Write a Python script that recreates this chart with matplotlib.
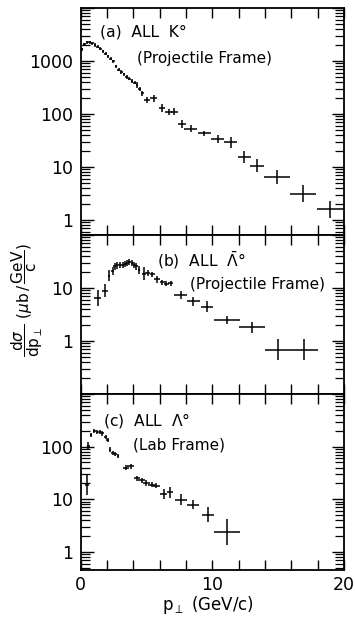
import numpy as np
import matplotlib
matplotlib.use("Agg")
import matplotlib.pyplot as plt
from matplotlib.ticker import FixedLocator, FuncFormatter, LogLocator, NullFormatter

plt.rcParams['font.family'] = ['DejaVu Sans']
plt.rcParams['mathtext.fontset'] = 'dejavusans'

# ---------------- data ----------------
# (a) ALL K0, projectile frame
a_pt = [0.1, 0.3, 0.5, 0.7, 0.9, 1.1, 1.3, 1.5, 1.7, 1.9, 2.1, 2.3, 2.5, 2.7, 2.9,
        3.1, 3.3, 3.5, 3.7, 3.9, 4.1, 4.3, 4.5, 4.7, 5.06, 5.56, 6.2, 6.7, 7.13,
        7.7, 8.35, 9.4, 10.4, 11.4, 12.44, 13.4, 14.9, 16.9, 18.97]
a_val = [1650, 2050, 2250, 2250, 2150, 2000, 1850, 1700, 1520, 1370, 1220, 1100, 980, 800, 680,
         620, 560, 500, 460, 420, 390, 350, 300, 245, 183, 197, 130, 110, 110,
         65, 53, 43, 33.5, 29, 15.5, 10.5, 6.5, 3.1, 1.6]
a_xerr = [0.1] * 24 + [0.25, 0.25, 0.25, 0.25, 0.25, 0.3, 0.5, 0.5, 0.5, 0.5, 0.5, 0.5, 1.0, 1.0, 1.0]
a_dex = [0.03] * 21 + [0.06, 0.04, 0.05, 0.05, 0.07, 0.07, 0.06, 0.07, 0.07, 0.06, 0.05,
                       0.08, 0.1, 0.11, 0.12, 0.13, 0.16, 0.16]

# (b) ALL anti-Lambda0, projectile frame
b_pt = [1.3, 1.85, 2.15, 2.45, 2.6, 2.8, 3.0, 3.2, 3.4, 3.55, 3.7, 3.9, 4.05, 4.25, 4.45,
        4.8, 5.1, 5.45, 5.8, 6.2, 6.5, 6.85, 7.6, 8.55, 9.6, 11.1, 13.0, 15.0, 17.0]
b_val = [6.4, 8.9, 17, 21, 25.6, 26.7, 27.5, 27.5, 28, 29.5, 31, 29.5, 27.5, 25.5, 22,
         18.5, 19, 18, 14.5, 12.8, 12, 12.3, 7.4, 5.6, 4.45, 2.5, 1.8, 0.68, 0.68]
b_xerr = [0.25, 0.25] + [0.1] * 13 + [0.15, 0.2, 0.2, 0.2, 0.2, 0.2, 0.2,
                                      0.5, 0.5, 0.45, 1.0, 1.0, 1.0, 1.0]
b_dex = [0.15, 0.12, 0.1, 0.08] + [0.06] * 10 + [0.07, 0.12, 0.06, 0.05, 0.06, 0.05, 0.05,
                                                 0.05, 0.08, 0.09, 0.1, 0.08, 0.1, 0.2, 0.2]

# (c) ALL Lambda0, lab frame
c_pt = [0.5, 0.6, 0.8, 1.05, 1.25, 1.45, 1.65, 1.9, 2.05, 2.25, 2.45, 2.65, 2.85,
        3.45, 3.8, 4.3, 4.65, 5.0, 5.4, 5.75, 6.3, 6.8, 7.6, 8.55, 9.7, 11.1]
c_val = [19, 105, 165, 195, 192, 188, 178, 155, 135, 88, 76, 72, 66,
         40, 42, 25, 23, 20.5, 19, 18, 12.5, 13.5, 9.8, 7.9, 5.1, 2.4]
c_xerr = [0.15] + [0.1] * 12 + [0.25] * 9 + [0.45, 0.45, 0.45, 1.0]
c_dex = [0.2, 0.07] + [0.04] * 11 + [0.05] * 7 + [0.1, 0.1, 0.1, 0.08, 0.14, 0.24]

panels = [
    dict(pt=a_pt, val=a_val, xerr=a_xerr, dex=a_dex, ylim=(0.52, 1e4),
         labels={1: "1", 10: "10", 100: "100", 1000: "1000"},
         title=("(a)  ALL  K°", "(Projectile Frame)"),
         tpos=((100, 32), (137, 58))),
    dict(pt=b_pt, val=b_val, xerr=b_xerr, dex=b_dex, ylim=(0.1, 100),
         labels={1: "1", 10: "10"},
         title=(r"(b)  ALL  $\bar{\Lambda}$°", "(Projectile Frame)"),
         tpos=((157, 260), (190, 285))),
    dict(pt=c_pt, val=c_val, xerr=c_xerr, dex=c_dex, ylim=(0.454, 1000),
         labels={1: "1", 10: "10", 100: "100"},
         title=(r"(c)  ALL  $\Lambda$°", "(Lab Frame)"),
         tpos=((103, 420), (133, 445))),
]

W, H = 355, 618
fig = plt.figure(figsize=(W / 100, H / 100), dpi=100)
left, right = 80.5, 344.0
edges = [(8, 235), (235, 394), (394, 570)]

for i, (p, (top, bot)) in enumerate(zip(panels, edges)):
    ax = fig.add_axes([left / W, (H - bot) / H, (right - left) / W, (bot - top) / H])
    y = np.array(p['val'], float)
    dex = np.array(p['dex'], float)
    lo = y - y / 10 ** dex
    hi = y * 10 ** dex - y
    ax.errorbar(p['pt'], y, xerr=p['xerr'], yerr=[lo, hi], fmt='none',
                ecolor='black', elinewidth=1.1, capsize=0)
    ax.set_yscale('log')
    ax.set_ylim(*p['ylim'])
    ax.set_xlim(0, 20)
    ax.xaxis.set_major_locator(FixedLocator(np.arange(0, 21, 2)))
    if i == 2:
        ax.xaxis.set_major_formatter(FuncFormatter(lambda v, pos: f"{int(v)}" if v in (0, 10, 20) else ""))
    else:
        ax.xaxis.set_major_formatter(NullFormatter())
    ax.tick_params(axis='x', which='major', direction='in', top=True, bottom=True,
                   length=7, width=1.0, labelsize=12.5, pad=4)
    labels = p['labels']
    ax.yaxis.set_major_locator(LogLocator(base=10, numticks=10))
    ax.yaxis.set_minor_locator(LogLocator(base=10, subs=np.arange(2, 10), numticks=20))
    ax.yaxis.set_major_formatter(FuncFormatter(
        lambda v, pos, labels=labels: labels.get(int(round(v)), "") if v >= 1 else ""))
    ax.yaxis.set_minor_formatter(NullFormatter())
    ax.tick_params(axis='y', which='major', direction='in', left=True, right=True,
                   length=9, width=1.0, labelsize=12.5, pad=5)
    ax.tick_params(axis='y', which='minor', direction='in', left=True, right=True,
                   length=6.5, width=0.9)
    for s in ax.spines.values():
        s.set_linewidth(1.3)
    (t1, t2) = p['title']
    (x1, y1), (x2, y2) = p['tpos']
    fig.text(x1 / W, 1 - y1 / H, t1, fontsize=11.2, ha='left', va='center')
    fig.text(x2 / W, 1 - y2 / H, t2, fontsize=11.0, ha='left', va='center')

fig.text(208 / W, 1 - 605 / H, r"$\mathrm{p}_{\perp}$ (GeV/c)", fontsize=12, ha='center', va='center')
fig.text(27 / W, 1 - 300 / H,
         r"$\dfrac{\mathrm{d}\sigma}{\mathrm{dp}_{\perp}}\ (\mu\mathrm{b}\,/\,\dfrac{\mathrm{GeV}}{\mathrm{c}})$",
         fontsize=11, rotation=90, ha='center', va='center')

fig.savefig("out.png", dpi=100)
